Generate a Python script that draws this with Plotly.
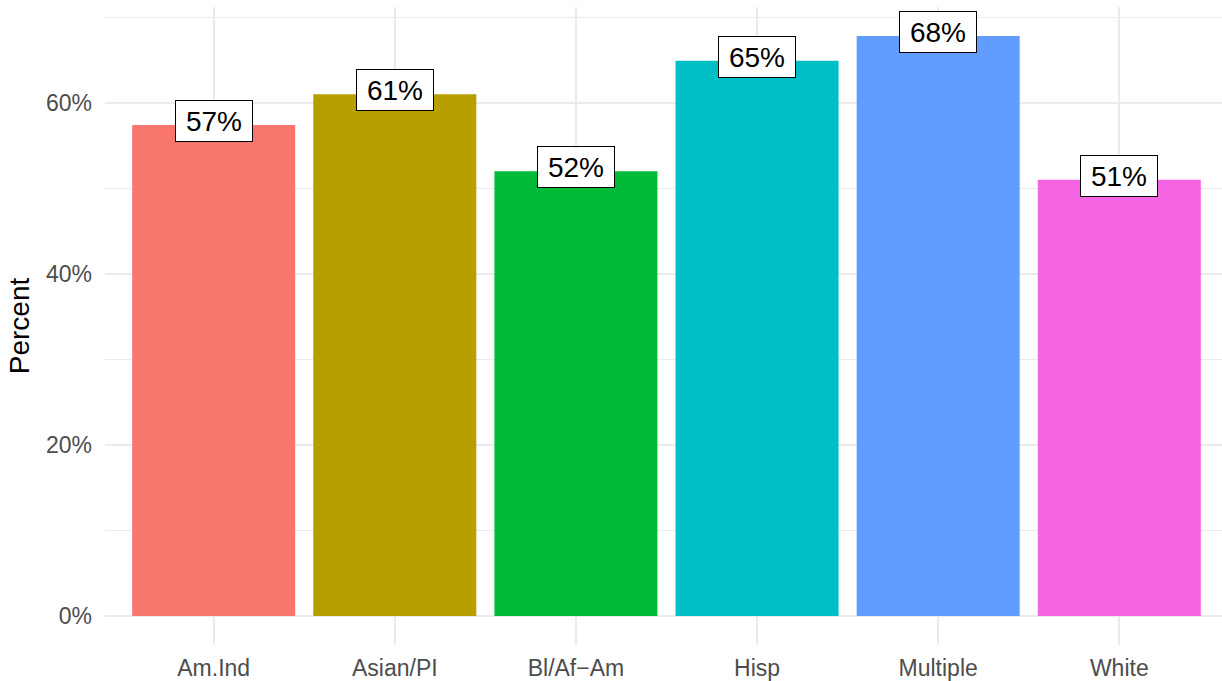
import plotly.graph_objects as go

categories = ["Am.Ind", "Asian/PI", "Bl/Af\u2212Am", "Hisp", "Multiple", "White"]
percents = [57.4, 61.0, 52.0, 64.9, 67.8, 51.0]
colors = ["#F8766D", "#B79F00", "#00BA38", "#00BFC4", "#619CFF", "#F564E3"]
y_ticks = [0, 20, 40, 60]
y_tick_labels = ["0%", "20%", "40%", "60%"]

FONT = "Liberation Sans, Arial, Helvetica, sans-serif"

fig = go.Figure()
fig.add_trace(go.Bar(
    x=categories, y=percents, marker=dict(color=colors, line=dict(width=0)),
    width=0.9, showlegend=False, hoverinfo="skip",
))

for c, v in zip(categories, percents):
    fig.add_annotation(
        x=c, y=v, xref="x", yref="y", text=f"{round(v)}%", showarrow=False,
        font=dict(family=FONT, size=28, color="black"),
        bgcolor="white", bordercolor="black", borderwidth=1, borderpad=2,
        width=72, height=36, yshift=4, xanchor="center", yanchor="middle",
    )

ymax = max(percents)
fig.update_layout(
    width=1222, height=681,
    margin=dict(l=105, r=0, t=7, b=36),
    paper_bgcolor="white", plot_bgcolor="white",
    font=dict(family=FONT),
    bargap=0.1,
    xaxis=dict(
        type="category", range=[-0.6, 5.567],
        showgrid=True, gridcolor="#EBEBEB", gridwidth=2,
        zeroline=False, showline=False, ticks="",
        tickfont=dict(family=FONT, size=23, color="#4D4D4D"),
        ticklabelstandoff=7,
    ),
    yaxis=dict(
        range=[-0.05 * ymax, 1.05 * ymax],
        tickvals=y_ticks, ticktext=y_tick_labels,
        showgrid=True, gridcolor="#EBEBEB", gridwidth=2,
        minor=dict(dtick=10, tick0=0, showgrid=True, gridcolor="#EBEBEB", gridwidth=1, ticks=""),
        zeroline=False, showline=False, ticks="",
        tickfont=dict(family=FONT, size=23, color="#4D4D4D"),
        ticklabelstandoff=12,
        title=dict(text="Percent", font=dict(family=FONT, size=28, color="black"), standoff=8),
    ),
)

fig.write_html(
    "out.html",
    config={"displayModeBar": False},
    post_script="document.body.style.margin='0';document.body.style.overflow='hidden';",
)
